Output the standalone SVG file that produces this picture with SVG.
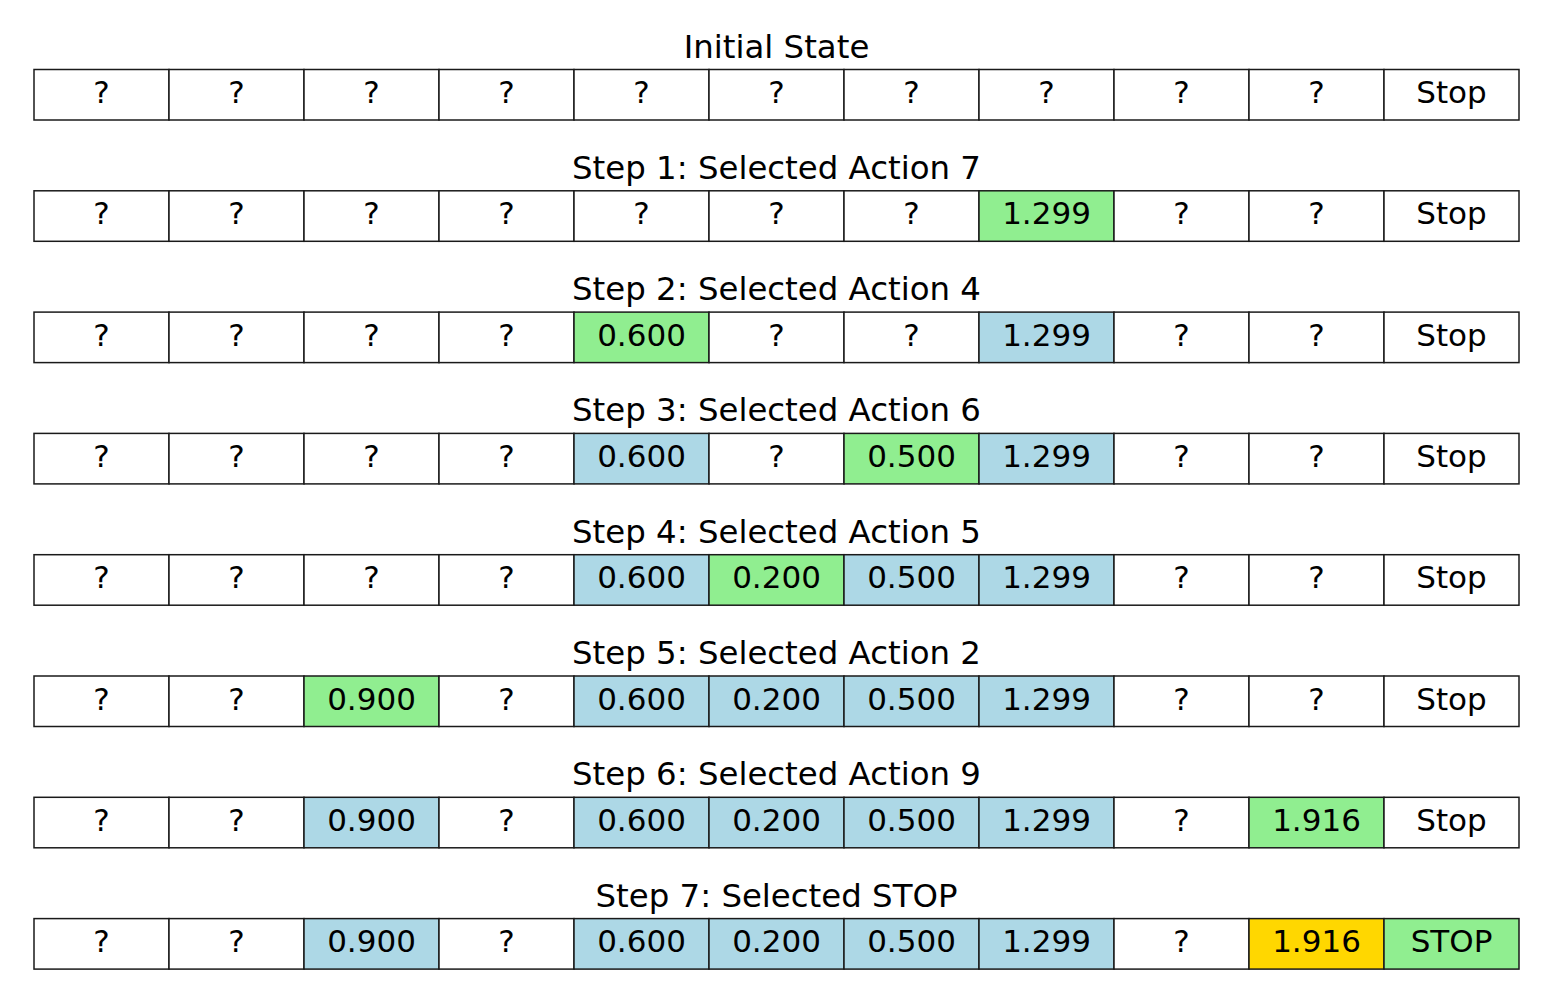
<svg xmlns="http://www.w3.org/2000/svg" width="1552" height="995" viewBox="0 0 1552 995">
<style>
.c{stroke:#1a1a1a;stroke-width:1.5}
.w{fill:#ffffff}.g{fill:#90ee90}.b{fill:#add8e6}.y{fill:#ffd700}
text{font-family:"DejaVu Sans",sans-serif;font-size:31px;fill:#000;text-anchor:middle}
#titles text{font-size:32.4px}
</style>
<rect width="1552" height="995" fill="#fff"/>
<g id="titles">
<text x="776.5" y="57.5">Initial State</text>
<text x="776.5" y="178.8">Step 1: Selected Action 7</text>
<text x="776.5" y="300.1">Step 2: Selected Action 4</text>
<text x="776.5" y="421.4">Step 3: Selected Action 6</text>
<text x="776.5" y="542.7">Step 4: Selected Action 5</text>
<text x="776.5" y="664">Step 5: Selected Action 2</text>
<text x="776.5" y="785.3">Step 6: Selected Action 9</text>
<text x="776.5" y="906.6">Step 7: Selected STOP</text>
</g>
<g id="row0" transform="translate(0,69.5)">
<g id="r0c0"><rect class="c w" x="34" y="0" width="135" height="50.5"/><text x="101.5" y="33.5">?</text></g>
<g id="r0c1"><rect class="c w" x="169" y="0" width="135" height="50.5"/><text x="236.5" y="33.5">?</text></g>
<g id="r0c2"><rect class="c w" x="304" y="0" width="135" height="50.5"/><text x="371.5" y="33.5">?</text></g>
<g id="r0c3"><rect class="c w" x="439" y="0" width="135" height="50.5"/><text x="506.5" y="33.5">?</text></g>
<g id="r0c4"><rect class="c w" x="574" y="0" width="135" height="50.5"/><text x="641.5" y="33.5">?</text></g>
<g id="r0c5"><rect class="c w" x="709" y="0" width="135" height="50.5"/><text x="776.5" y="33.5">?</text></g>
<g id="r0c6"><rect class="c w" x="844" y="0" width="135" height="50.5"/><text x="911.5" y="33.5">?</text></g>
<g id="r0c7"><rect class="c w" x="979" y="0" width="135" height="50.5"/><text x="1046.5" y="33.5">?</text></g>
<g id="r0c8"><rect class="c w" x="1114" y="0" width="135" height="50.5"/><text x="1181.5" y="33.5">?</text></g>
<g id="r0c9"><rect class="c w" x="1249" y="0" width="135" height="50.5"/><text x="1316.5" y="33.5">?</text></g>
<g id="r0c10"><rect class="c w" x="1384" y="0" width="135" height="50.5"/><text x="1451.5" y="33.5">Stop</text></g>
</g>
<g id="row1" transform="translate(0,190.8)">
<g id="r1c0"><rect class="c w" x="34" y="0" width="135" height="50.5"/><text x="101.5" y="33.5">?</text></g>
<g id="r1c1"><rect class="c w" x="169" y="0" width="135" height="50.5"/><text x="236.5" y="33.5">?</text></g>
<g id="r1c2"><rect class="c w" x="304" y="0" width="135" height="50.5"/><text x="371.5" y="33.5">?</text></g>
<g id="r1c3"><rect class="c w" x="439" y="0" width="135" height="50.5"/><text x="506.5" y="33.5">?</text></g>
<g id="r1c4"><rect class="c w" x="574" y="0" width="135" height="50.5"/><text x="641.5" y="33.5">?</text></g>
<g id="r1c5"><rect class="c w" x="709" y="0" width="135" height="50.5"/><text x="776.5" y="33.5">?</text></g>
<g id="r1c6"><rect class="c w" x="844" y="0" width="135" height="50.5"/><text x="911.5" y="33.5">?</text></g>
<g id="r1c7"><rect class="c g" x="979" y="0" width="135" height="50.5"/><text x="1046.5" y="33.5">1.299</text></g>
<g id="r1c8"><rect class="c w" x="1114" y="0" width="135" height="50.5"/><text x="1181.5" y="33.5">?</text></g>
<g id="r1c9"><rect class="c w" x="1249" y="0" width="135" height="50.5"/><text x="1316.5" y="33.5">?</text></g>
<g id="r1c10"><rect class="c w" x="1384" y="0" width="135" height="50.5"/><text x="1451.5" y="33.5">Stop</text></g>
</g>
<g id="row2" transform="translate(0,312.1)">
<g id="r2c0"><rect class="c w" x="34" y="0" width="135" height="50.5"/><text x="101.5" y="33.5">?</text></g>
<g id="r2c1"><rect class="c w" x="169" y="0" width="135" height="50.5"/><text x="236.5" y="33.5">?</text></g>
<g id="r2c2"><rect class="c w" x="304" y="0" width="135" height="50.5"/><text x="371.5" y="33.5">?</text></g>
<g id="r2c3"><rect class="c w" x="439" y="0" width="135" height="50.5"/><text x="506.5" y="33.5">?</text></g>
<g id="r2c4"><rect class="c g" x="574" y="0" width="135" height="50.5"/><text x="641.5" y="33.5">0.600</text></g>
<g id="r2c5"><rect class="c w" x="709" y="0" width="135" height="50.5"/><text x="776.5" y="33.5">?</text></g>
<g id="r2c6"><rect class="c w" x="844" y="0" width="135" height="50.5"/><text x="911.5" y="33.5">?</text></g>
<g id="r2c7"><rect class="c b" x="979" y="0" width="135" height="50.5"/><text x="1046.5" y="33.5">1.299</text></g>
<g id="r2c8"><rect class="c w" x="1114" y="0" width="135" height="50.5"/><text x="1181.5" y="33.5">?</text></g>
<g id="r2c9"><rect class="c w" x="1249" y="0" width="135" height="50.5"/><text x="1316.5" y="33.5">?</text></g>
<g id="r2c10"><rect class="c w" x="1384" y="0" width="135" height="50.5"/><text x="1451.5" y="33.5">Stop</text></g>
</g>
<g id="row3" transform="translate(0,433.4)">
<g id="r3c0"><rect class="c w" x="34" y="0" width="135" height="50.5"/><text x="101.5" y="33.5">?</text></g>
<g id="r3c1"><rect class="c w" x="169" y="0" width="135" height="50.5"/><text x="236.5" y="33.5">?</text></g>
<g id="r3c2"><rect class="c w" x="304" y="0" width="135" height="50.5"/><text x="371.5" y="33.5">?</text></g>
<g id="r3c3"><rect class="c w" x="439" y="0" width="135" height="50.5"/><text x="506.5" y="33.5">?</text></g>
<g id="r3c4"><rect class="c b" x="574" y="0" width="135" height="50.5"/><text x="641.5" y="33.5">0.600</text></g>
<g id="r3c5"><rect class="c w" x="709" y="0" width="135" height="50.5"/><text x="776.5" y="33.5">?</text></g>
<g id="r3c6"><rect class="c g" x="844" y="0" width="135" height="50.5"/><text x="911.5" y="33.5">0.500</text></g>
<g id="r3c7"><rect class="c b" x="979" y="0" width="135" height="50.5"/><text x="1046.5" y="33.5">1.299</text></g>
<g id="r3c8"><rect class="c w" x="1114" y="0" width="135" height="50.5"/><text x="1181.5" y="33.5">?</text></g>
<g id="r3c9"><rect class="c w" x="1249" y="0" width="135" height="50.5"/><text x="1316.5" y="33.5">?</text></g>
<g id="r3c10"><rect class="c w" x="1384" y="0" width="135" height="50.5"/><text x="1451.5" y="33.5">Stop</text></g>
</g>
<g id="row4" transform="translate(0,554.7)">
<g id="r4c0"><rect class="c w" x="34" y="0" width="135" height="50.5"/><text x="101.5" y="33.5">?</text></g>
<g id="r4c1"><rect class="c w" x="169" y="0" width="135" height="50.5"/><text x="236.5" y="33.5">?</text></g>
<g id="r4c2"><rect class="c w" x="304" y="0" width="135" height="50.5"/><text x="371.5" y="33.5">?</text></g>
<g id="r4c3"><rect class="c w" x="439" y="0" width="135" height="50.5"/><text x="506.5" y="33.5">?</text></g>
<g id="r4c4"><rect class="c b" x="574" y="0" width="135" height="50.5"/><text x="641.5" y="33.5">0.600</text></g>
<g id="r4c5"><rect class="c g" x="709" y="0" width="135" height="50.5"/><text x="776.5" y="33.5">0.200</text></g>
<g id="r4c6"><rect class="c b" x="844" y="0" width="135" height="50.5"/><text x="911.5" y="33.5">0.500</text></g>
<g id="r4c7"><rect class="c b" x="979" y="0" width="135" height="50.5"/><text x="1046.5" y="33.5">1.299</text></g>
<g id="r4c8"><rect class="c w" x="1114" y="0" width="135" height="50.5"/><text x="1181.5" y="33.5">?</text></g>
<g id="r4c9"><rect class="c w" x="1249" y="0" width="135" height="50.5"/><text x="1316.5" y="33.5">?</text></g>
<g id="r4c10"><rect class="c w" x="1384" y="0" width="135" height="50.5"/><text x="1451.5" y="33.5">Stop</text></g>
</g>
<g id="row5" transform="translate(0,676)">
<g id="r5c0"><rect class="c w" x="34" y="0" width="135" height="50.5"/><text x="101.5" y="33.5">?</text></g>
<g id="r5c1"><rect class="c w" x="169" y="0" width="135" height="50.5"/><text x="236.5" y="33.5">?</text></g>
<g id="r5c2"><rect class="c g" x="304" y="0" width="135" height="50.5"/><text x="371.5" y="33.5">0.900</text></g>
<g id="r5c3"><rect class="c w" x="439" y="0" width="135" height="50.5"/><text x="506.5" y="33.5">?</text></g>
<g id="r5c4"><rect class="c b" x="574" y="0" width="135" height="50.5"/><text x="641.5" y="33.5">0.600</text></g>
<g id="r5c5"><rect class="c b" x="709" y="0" width="135" height="50.5"/><text x="776.5" y="33.5">0.200</text></g>
<g id="r5c6"><rect class="c b" x="844" y="0" width="135" height="50.5"/><text x="911.5" y="33.5">0.500</text></g>
<g id="r5c7"><rect class="c b" x="979" y="0" width="135" height="50.5"/><text x="1046.5" y="33.5">1.299</text></g>
<g id="r5c8"><rect class="c w" x="1114" y="0" width="135" height="50.5"/><text x="1181.5" y="33.5">?</text></g>
<g id="r5c9"><rect class="c w" x="1249" y="0" width="135" height="50.5"/><text x="1316.5" y="33.5">?</text></g>
<g id="r5c10"><rect class="c w" x="1384" y="0" width="135" height="50.5"/><text x="1451.5" y="33.5">Stop</text></g>
</g>
<g id="row6" transform="translate(0,797.3)">
<g id="r6c0"><rect class="c w" x="34" y="0" width="135" height="50.5"/><text x="101.5" y="33.5">?</text></g>
<g id="r6c1"><rect class="c w" x="169" y="0" width="135" height="50.5"/><text x="236.5" y="33.5">?</text></g>
<g id="r6c2"><rect class="c b" x="304" y="0" width="135" height="50.5"/><text x="371.5" y="33.5">0.900</text></g>
<g id="r6c3"><rect class="c w" x="439" y="0" width="135" height="50.5"/><text x="506.5" y="33.5">?</text></g>
<g id="r6c4"><rect class="c b" x="574" y="0" width="135" height="50.5"/><text x="641.5" y="33.5">0.600</text></g>
<g id="r6c5"><rect class="c b" x="709" y="0" width="135" height="50.5"/><text x="776.5" y="33.5">0.200</text></g>
<g id="r6c6"><rect class="c b" x="844" y="0" width="135" height="50.5"/><text x="911.5" y="33.5">0.500</text></g>
<g id="r6c7"><rect class="c b" x="979" y="0" width="135" height="50.5"/><text x="1046.5" y="33.5">1.299</text></g>
<g id="r6c8"><rect class="c w" x="1114" y="0" width="135" height="50.5"/><text x="1181.5" y="33.5">?</text></g>
<g id="r6c9"><rect class="c g" x="1249" y="0" width="135" height="50.5"/><text x="1316.5" y="33.5">1.916</text></g>
<g id="r6c10"><rect class="c w" x="1384" y="0" width="135" height="50.5"/><text x="1451.5" y="33.5">Stop</text></g>
</g>
<g id="row7" transform="translate(0,918.6)">
<g id="r7c0"><rect class="c w" x="34" y="0" width="135" height="50.5"/><text x="101.5" y="33.5">?</text></g>
<g id="r7c1"><rect class="c w" x="169" y="0" width="135" height="50.5"/><text x="236.5" y="33.5">?</text></g>
<g id="r7c2"><rect class="c b" x="304" y="0" width="135" height="50.5"/><text x="371.5" y="33.5">0.900</text></g>
<g id="r7c3"><rect class="c w" x="439" y="0" width="135" height="50.5"/><text x="506.5" y="33.5">?</text></g>
<g id="r7c4"><rect class="c b" x="574" y="0" width="135" height="50.5"/><text x="641.5" y="33.5">0.600</text></g>
<g id="r7c5"><rect class="c b" x="709" y="0" width="135" height="50.5"/><text x="776.5" y="33.5">0.200</text></g>
<g id="r7c6"><rect class="c b" x="844" y="0" width="135" height="50.5"/><text x="911.5" y="33.5">0.500</text></g>
<g id="r7c7"><rect class="c b" x="979" y="0" width="135" height="50.5"/><text x="1046.5" y="33.5">1.299</text></g>
<g id="r7c8"><rect class="c w" x="1114" y="0" width="135" height="50.5"/><text x="1181.5" y="33.5">?</text></g>
<g id="r7c9"><rect class="c y" x="1249" y="0" width="135" height="50.5"/><text x="1316.5" y="33.5">1.916</text></g>
<g id="r7c10"><rect class="c g" x="1384" y="0" width="135" height="50.5"/><text x="1451.5" y="33.5">STOP</text></g>
</g>
<g id="connectors"/>
</svg>
